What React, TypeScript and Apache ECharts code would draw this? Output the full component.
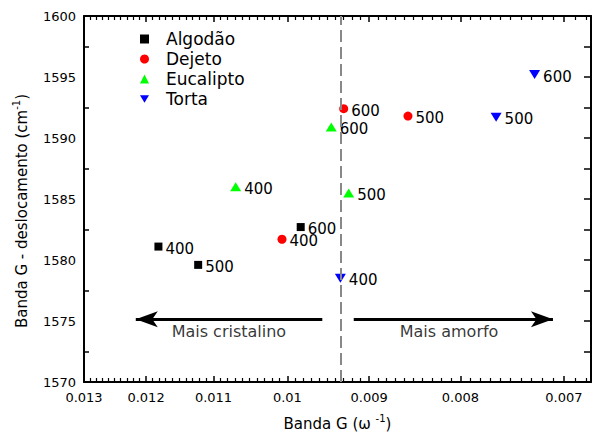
import React, { useEffect, useRef } from 'react';
import * as echarts from 'echarts';

const FONT = 'DejaVu Sans';

const seriesNames = ['Algodão', 'Dejeto', 'Eucalipto', 'Torta'];
const seriesColors = ['#000000', '#ff0000', '#00ff00', '#0000ff'];

// x = Banda G (ω^-1), y = deslocamento (cm^-1), t = temperatura
const algodaoX = [0.01181, 0.01122, 0.00983];
const algodaoY = [1581.1, 1579.6, 1582.7];
const algodaoT = [400, 500, 600];

const dejetoX = [0.01007, 0.00856, 0.0093];
const dejetoY = [1581.7, 1591.8, 1592.4];
const dejetoT = [400, 500, 600];

const eucaliptoX = [0.01069, 0.00924, 0.00945];
const eucaliptoY = [1586.0, 1585.5, 1590.9];
const eucaliptoT = [400, 500, 600];

const tortaX = [0.00934, 0.00764, 0.00727];
const tortaY = [1578.5, 1591.7, 1595.2];
const tortaT = [400, 500, 600];

const xMajorTicks = [0.013, 0.012, 0.011, 0.01, 0.009, 0.008, 0.007];
const xMinorStep = 0.0001;
const xMin = 0.00676;
const xMax = 0.013;
const yMin = 1570;
const yMax = 1600;
const yLabelInterval = 5;
const yMinorTicks = [1572.5, 1577.5, 1582.5, 1587.5, 1592.5, 1597.5];
const yRightTicks = [1570, 1572.5, 1575, 1577.5, 1580, 1582.5, 1585, 1587.5, 1590, 1592.5, 1595, 1597.5, 1600];

const dividerX = 0.00933;

const noteTexts = ['Mais cristalino', 'Mais amorfo'];
const noteX = [0.010784, 0.008118];
const noteY = [1574.15, 1574.15];

const arrowFromX = [0.00956, 0.00918];
const arrowToX = [0.01216, 0.0071];
const arrowY = 1575.15;

const L = (v: number) => Math.log10(v);

const minorTicks: number[] = [];
for (let i = Math.ceil(xMin / xMinorStep); i <= Math.round(xMax / xMinorStep); i++) {
  if (i % 10 !== 0) minorTicks.push(L(i * xMinorStep));
}

const build = (xs: number[], ys: number[], ts: number[]) =>
  xs.map((x, i) => [L(x), ys[i], ts[i]]);

const seriesData = [
  build(algodaoX, algodaoY, algodaoT),
  build(dejetoX, dejetoY, dejetoT),
  build(eucaliptoX, eucaliptoY, eucaliptoT),
  build(tortaX, tortaY, tortaT),
];
const symbols = ['rect', 'circle', 'triangle', 'triangle'];
const symbolSizes: any[] = [8, 9, [11, 9], [11, 9]];
const symbolRotates = [0, 0, 0, 180];
const legendIcons = ['rect', 'circle', 'triangle', 'path://M0,0L12,0L6,10Z'];

const baseX = {
  type: 'value',
  min: L(xMin),
  max: L(xMax),
  inverse: true,
  splitLine: { show: false },
  axisLabel: { show: false },
};

export default function App() {
  const ref = useRef<HTMLDivElement>(null);
  useEffect(() => {
    const chart = echarts.init(ref.current!, null, { renderer: 'svg' });
    const tickFmt = (v: number) => String(Number(Math.pow(10, v).toFixed(4)));
    const option: any = {
      animation: false,
      grid: { left: 84, right: 1, top: 16, bottom: 51 },
      legend: {
        data: seriesNames.map((name, i) => ({ name, icon: legendIcons[i] })),
        orient: 'vertical',
        left: 140,
        top: 29,
        padding: 0,
        itemWidth: 9,
        itemHeight: 9,
        itemGap: 0,
        symbolKeepAspect: true,
        textStyle: { fontFamily: FONT, fontSize: 17, color: '#000', lineHeight: 20, padding: [0, 0, 0, 12] },
      },
      xAxis: [
        {
          ...baseX,
          position: 'bottom',
          axisLine: { show: true, lineStyle: { color: '#000', width: 2 } },
          axisTick: { show: true, inside: true, length: 6, customValues: xMajorTicks.map(L), lineStyle: { color: '#000', width: 1.5 } },
          axisLabel: { show: true, customValues: xMajorTicks.map(L), formatter: tickFmt, fontFamily: FONT, fontSize: 13, color: '#000', margin: 9 },
          name: '{a|Banda G (ω }{s|-1}{a|)}',
          nameLocation: 'middle',
          nameGap: 31,
          nameTextStyle: {
            rich: {
              a: { fontFamily: FONT, fontSize: 15, color: '#000', lineHeight: 18, verticalAlign: 'bottom' },
              s: { fontFamily: FONT, fontSize: 10, color: '#000', lineHeight: 10, verticalAlign: 'top' },
            },
          },
        },
        {
          ...baseX,
          position: 'bottom',
          axisLine: { show: false },
          axisTick: { show: true, inside: true, length: 4, customValues: minorTicks, lineStyle: { color: '#000', width: 1.2 } },
        },
        {
          ...baseX,
          position: 'top',
          axisLine: { show: true, lineStyle: { color: '#000', width: 2 } },
          axisTick: { show: true, inside: true, length: 6, customValues: xMajorTicks.map(L), lineStyle: { color: '#000', width: 1.5 } },
        },
        {
          ...baseX,
          position: 'top',
          axisLine: { show: false },
          axisTick: { show: true, inside: true, length: 4, customValues: minorTicks, lineStyle: { color: '#000', width: 1.2 } },
        },
      ],
      yAxis: [
        {
          type: 'value',
          min: yMin,
          max: yMax,
          interval: yLabelInterval,
          position: 'left',
          splitLine: { show: false },
          axisLine: { show: true, lineStyle: { color: '#000', width: 2 } },
          axisTick: { show: true, inside: true, length: 5, customValues: yMinorTicks, lineStyle: { color: '#000', width: 1.5 } },
          axisLabel: { fontFamily: FONT, fontSize: 13, color: '#000', margin: 8, formatter: (v: number) => String(v) },
          name: '{a|Banda G - deslocamento (cm}{s|-1}{a|)}',
          nameLocation: 'middle',
          nameGap: 55,
          nameTextStyle: {
            padding: [0, 24, 0, 0],
            rich: {
              a: { fontFamily: FONT, fontSize: 15, color: '#000', lineHeight: 18, verticalAlign: 'bottom' },
              s: { fontFamily: FONT, fontSize: 10, color: '#000', lineHeight: 10, verticalAlign: 'top' },
            },
          },
        },
        {
          type: 'value',
          min: yMin,
          max: yMax,
          position: 'right',
          splitLine: { show: false },
          axisLine: { show: true, lineStyle: { color: '#000', width: 2 } },
          axisTick: { show: true, inside: true, length: 7, customValues: yRightTicks, lineStyle: { color: '#000', width: 1.5 } },
          axisLabel: { show: false },
        },
      ],
      series: [
        ...seriesNames.map((name, i) => ({
          type: 'scatter',
          name,
          xAxisIndex: 0,
          yAxisIndex: 0,
          data: seriesData[i],
          symbol: symbols[i],
          symbolSize: symbolSizes[i],
          symbolRotate: symbolRotates[i],
          itemStyle: { color: seriesColors[i], opacity: 1 },
          label: {
            show: true,
            position: 'right',
            distance: 3,
            offset: [0, 2],
            formatter: (p: any) => String(p.value[2]),
            fontFamily: FONT,
            fontSize: 15,
            color: '#000',
          },
          markLine:
            i === 0
              ? {
                  silent: true,
                  symbol: 'none',
                  label: { show: false },
                  lineStyle: { color: '#888', type: [12, 5], width: 2 },
                  data: [{ xAxis: L(dividerX) }],
                }
              : undefined,
        })),
        {
          type: 'scatter',
          name: 'notes',
          xAxisIndex: 0,
          yAxisIndex: 0,
          symbolSize: 0,
          silent: true,
          data: noteTexts.map((t, i) => ({ value: [L(noteX[i]), noteY[i]], name: t })),
          label: {
            show: true,
            position: 'inside',
            formatter: (p: any) => p.name,
            fontFamily: FONT,
            fontSize: 16,
            color: '#000',
          },
          markLine: {
            silent: true,
            symbol: ['none', 'arrow'],
            symbolSize: [12, 22],
            label: { show: false },
            lineStyle: { color: '#000', width: 3, type: 'solid' },
            data: arrowFromX.map((fx, i) => [
              { coord: [L(fx), arrowY] },
              { coord: [L(arrowToX[i]), arrowY] },
            ]),
          },
        },
      ],
    };
    chart.setOption(option);
    return () => chart.dispose();
  }, []);
  return <div ref={ref} style={{ position: 'absolute', left: 0, top: 0, width: 592, height: 436 }} />;
}
